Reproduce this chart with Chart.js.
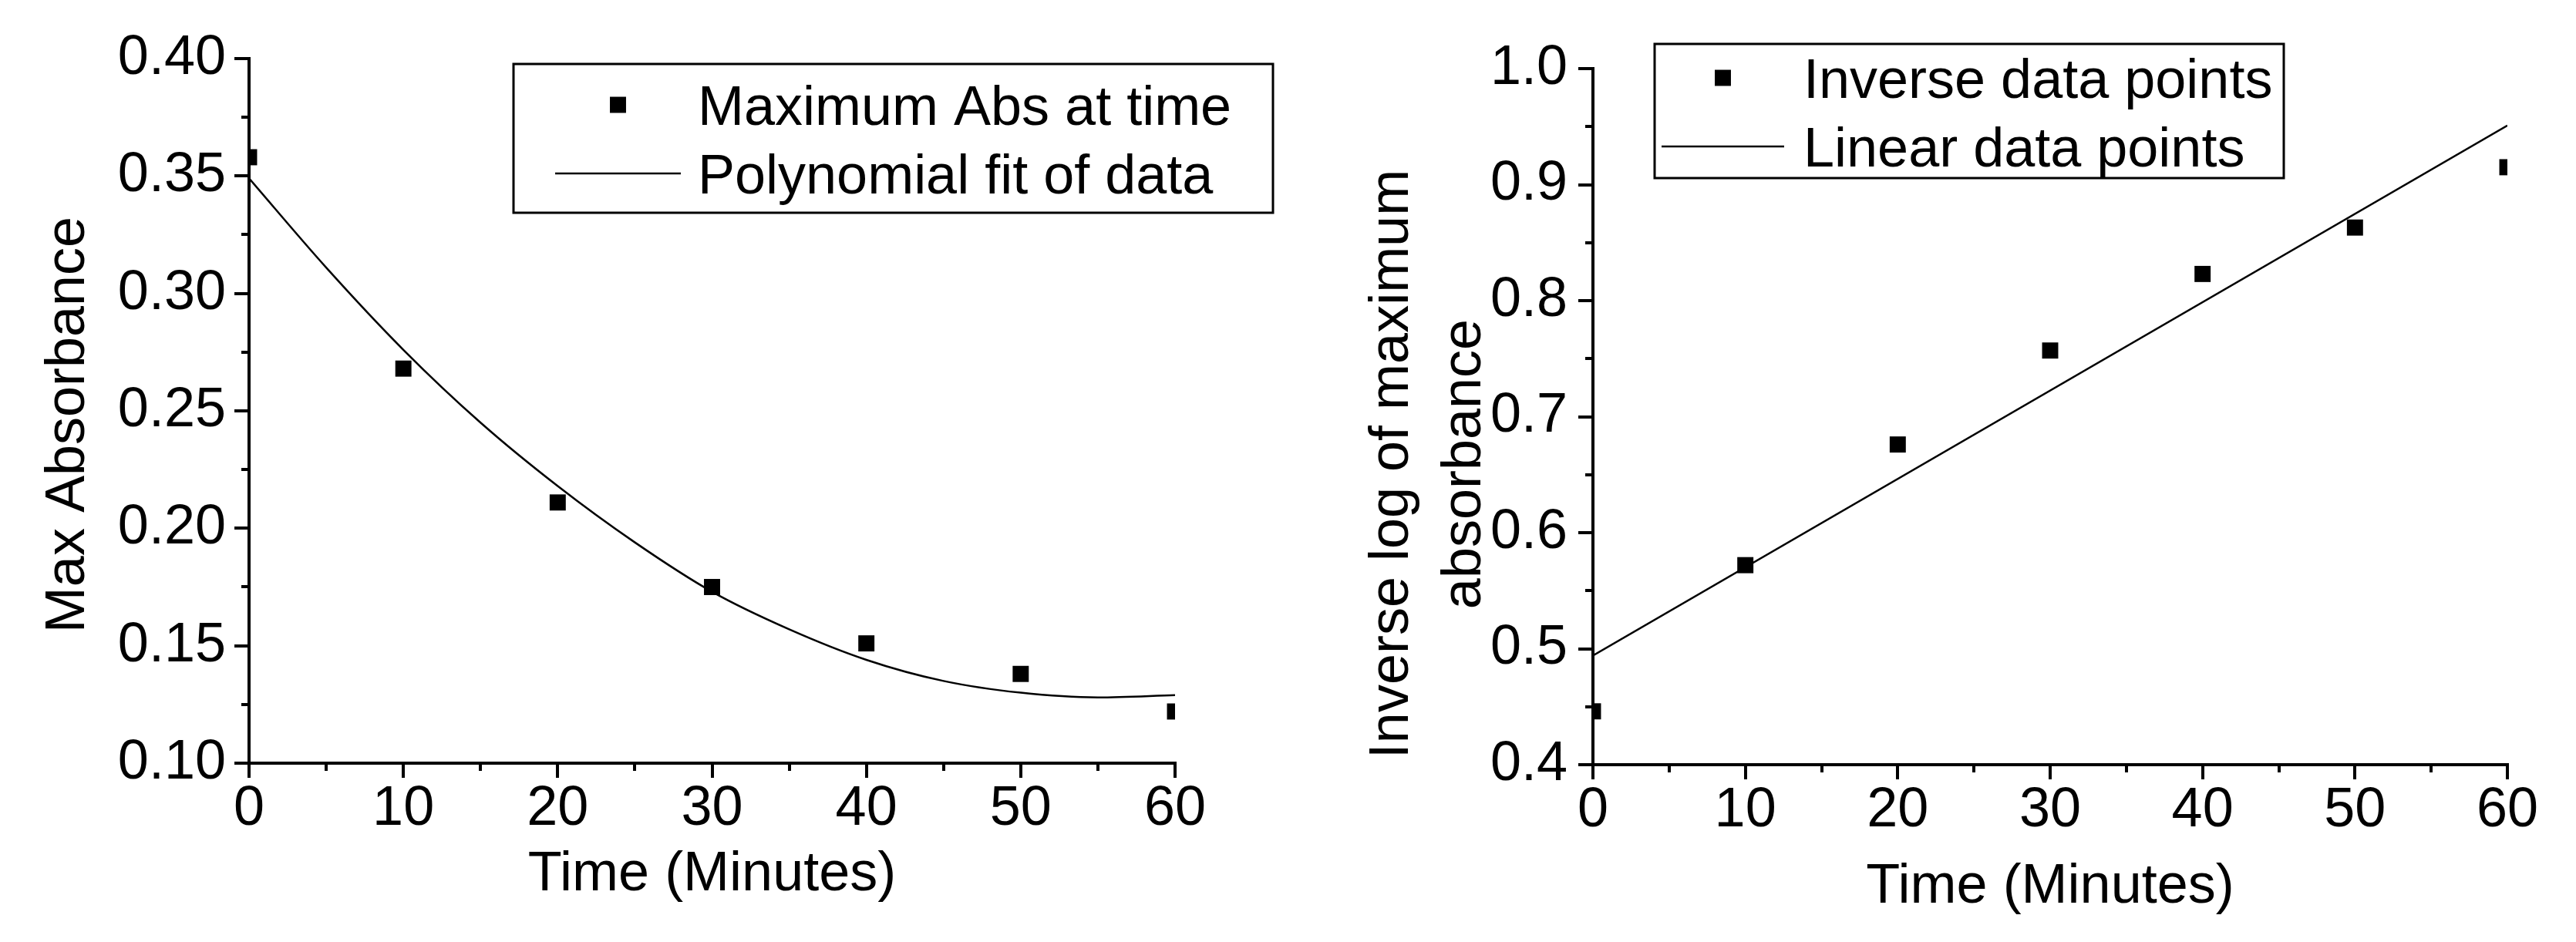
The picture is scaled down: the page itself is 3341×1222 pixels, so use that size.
<!DOCTYPE html>
<html>
<head>
<meta charset="utf-8">
<script src="https://cdn.jsdelivr.net/npm/chart.js@4.4.1/dist/chart.umd.min.js"></script>
<style>
  html, body { margin: 0; padding: 0; background: #fff; }
  #wrap { position: relative; width: 3341px; height: 1222px; }
  canvas { position: absolute; top: 0; }
  #absChart { left: 0; }
  #invChart { left: 1670px; }
</style>
</head>
<body>
<div id="wrap">
  <canvas id="absChart" width="1670" height="1222"></canvas>
  <canvas id="invChart" width="1671" height="1222"></canvas>
</div>
<script>
const times = [0, 10, 20, 30, 40, 50, 60];
const maxAbs = [0.358, 0.268, 0.211, 0.175, 0.151, 0.138, 0.122];
const fitTimes = [0, 5, 10, 15, 20, 25, 30, 35, 40, 45, 50, 55, 60];
const polyFit = [0.349, 0.311, 0.276, 0.245, 0.218, 0.194, 0.173, 0.157, 0.144, 0.135, 0.130, 0.128, 0.129];
const inverseLog = [0.446, 0.572, 0.676, 0.757, 0.823, 0.863, 0.915];
const linearTimes = [0, 60];
const linearFit = [0.494, 0.951];

// labelled ticks
const timeTicks = [0, 10, 20, 30, 40, 50, 60];
const absTicks = [0.10, 0.15, 0.20, 0.25, 0.30, 0.35, 0.40];
const invTicks = [0.4, 0.5, 0.6, 0.7, 0.8, 0.9, 1.0];

const FONT = '"Liberation Sans", Arial, Helvetica, sans-serif';
Chart.defaults.font.family = FONT;
Chart.defaults.font.size = 72;
Chart.defaults.color = '#000';

const toXY = (xs, ys) => xs.map((x, i) => ({x: x, y: ys[i]}));
const isMajor = (list, v) => list.some(t => Math.abs(t - v) < 1e-6);

// legend inside a framed box, and the rotated y title, as in the original figure
const boxLegend = {
  id: 'boxLegend',
  afterDatasetsDraw(chart, args, opts) {
    const ctx = chart.ctx;
    const [bx, by, bw, bh] = opts.box;
    ctx.save();
    ctx.fillStyle = '#fff';
    ctx.fillRect(bx, by, bw, bh);
    ctx.lineWidth = 3;
    ctx.strokeStyle = '#000';
    ctx.strokeRect(bx, by, bw, bh);
    ctx.font = '72px ' + FONT;
    ctx.fillStyle = '#000';
    ctx.textBaseline = 'alphabetic';
    chart.data.datasets.forEach((ds, i) => {
      const cy = opts.rows[i];
      if (ds.showLine) {
        ctx.lineWidth = ds.borderWidth;
        ctx.beginPath();
        ctx.moveTo(opts.sample[0], cy);
        ctx.lineTo(opts.sample[1], cy);
        ctx.stroke();
      } else {
        Chart.helpers.drawPoint(ctx, {pointStyle: 'rect', radius: ds.pointRadius, rotation: 0, borderWidth: 0},
          (opts.sample[0] + opts.sample[1]) / 2, cy);
      }
      ctx.fillText(ds.label, opts.textX, cy + 26);
    });

    // y axis title
    ctx.textAlign = 'center';
    ctx.textBaseline = 'middle';
    opts.yTitle.forEach((line, i) => {
      ctx.save();
      ctx.translate(opts.yTitleX[i], opts.yTitleY);
      ctx.rotate(-Math.PI / 2);
      ctx.fillText(line, 0, 0);
      ctx.restore();
    });
    ctx.restore();
  }
};

function makeScales(c) {
  return {
    x: {
      type: 'linear',
      min: 0,
      max: 60,
      afterFit: s => { s.height = c.xHeight; },
      ticks: {
        stepSize: 5,
        autoSkip: false,
        maxRotation: 0,
        padding: 0,
        font: {lineHeight: 1.15},
        callback: v => isMajor(timeTicks, v) ? String(Math.round(v)) : ''
      },
      grid: {
        drawOnChartArea: false,
        tickLength: 19,
        tickWidth: 4,
        lineWidth: 4,
        tickColor: '#000',
        tickBorderDash: ctx => isMajor(timeTicks, ctx.tick.value) ? [] : [8, 100]
      },
      border: {color: '#000', width: 4},
      title: {
        display: true,
        text: 'Time (Minutes)',
        padding: {top: 0, bottom: c.xTitlePad}
      }
    },
    y: {
      type: 'linear',
      min: c.yMin,
      max: c.yMax,
      afterFit: s => { s.width = c.yWidth; },
      ticks: {
        stepSize: c.yStep,
        autoSkip: false,
        padding: c.yLabelPad,
        callback: v => isMajor(c.yTicks, v) ? v.toFixed(c.digits) : ''
      },
      grid: {
        drawOnChartArea: false,
        tickLength: 19,
        tickWidth: 4,
        lineWidth: 4,
        tickColor: '#000',
        tickBorderDash: ctx => isMajor(c.yTicks, ctx.tick.value) ? [] : [8, 100],
        tickBorderDashOffset: ctx => isMajor(c.yTicks, ctx.tick.value) ? 0 : 99
      },
      border: {color: '#000', width: 4},
      title: {display: false}
    }
  };
}

new Chart(document.getElementById('absChart'), {
  type: 'scatter',
  data: {
    datasets: [{
      label: 'Maximum Abs at time',
      data: toXY(times, maxAbs),
      showLine: false,
      pointStyle: 'rect',
      pointRadius: 14.8,
      pointBorderWidth: 0,
      backgroundColor: '#000',
      borderColor: '#000',
      clip: 0
    }, {
      label: 'Polynomial fit of data',
      data: toXY(fitTimes, polyFit),
      showLine: true,
      pointRadius: 0,
      borderColor: '#000',
      borderWidth: 2.5,
      cubicInterpolationMode: 'monotone',
      clip: 0
    }]
  },
  options: {
    responsive: false,
    devicePixelRatio: 1,
    animation: false,
    events: [],
    layout: {padding: {left: 0, right: 146, top: 76, bottom: 0}},
    scales: makeScales({
      xHeight: 232, xTitlePad: 44,
      yMin: 0.1, yMax: 0.4, yStep: 0.025, yTicks: absTicks, digits: 2,
      yWidth: 323, yLabelPad: 11
    }),
    plugins: {
      legend: {display: false},
      tooltip: {enabled: false},
      boxLegend: {
        box: [666, 83, 985, 193], rows: [136, 225], sample: [720, 883], textX: 905,
        yTitle: ['Max Absorbance'], yTitleX: [89], yTitleY: 551
      }
    }
  },
  plugins: [boxLegend]
});

new Chart(document.getElementById('invChart'), {
  type: 'scatter',
  data: {
    datasets: [{
      label: 'Inverse data points',
      data: toXY(times, inverseLog),
      showLine: false,
      pointStyle: 'rect',
      pointRadius: 14.8,
      pointBorderWidth: 0,
      backgroundColor: '#000',
      borderColor: '#000',
      clip: 0
    }, {
      label: 'Linear data points',
      data: toXY(linearTimes, linearFit),
      showLine: true,
      pointRadius: 0,
      borderColor: '#000',
      borderWidth: 2.5,
      clip: 0
    }]
  },
  options: {
    responsive: false,
    devicePixelRatio: 1,
    animation: false,
    events: [],
    layout: {padding: {left: 0, right: 89, top: 89, bottom: 0}},
    scales: makeScales({
      xHeight: 230, xTitlePad: 28,
      yMin: 0.4, yMax: 1.0, yStep: 0.05, yTicks: invTicks, digits: 1,
      yWidth: 396, yLabelPad: 14
    }),
    plugins: {
      legend: {display: false},
      tooltip: {enabled: false},
      boxLegend: {
        box: [476, 57, 816, 174], rows: [101, 190], sample: [485, 644], textX: 669,
        yTitle: ['Inverse log of maximum', 'absorbance'], yTitleX: [136, 230], yTitleY: 602
      }
    }
  },
  plugins: [boxLegend]
});
</script>
</body>
</html>
